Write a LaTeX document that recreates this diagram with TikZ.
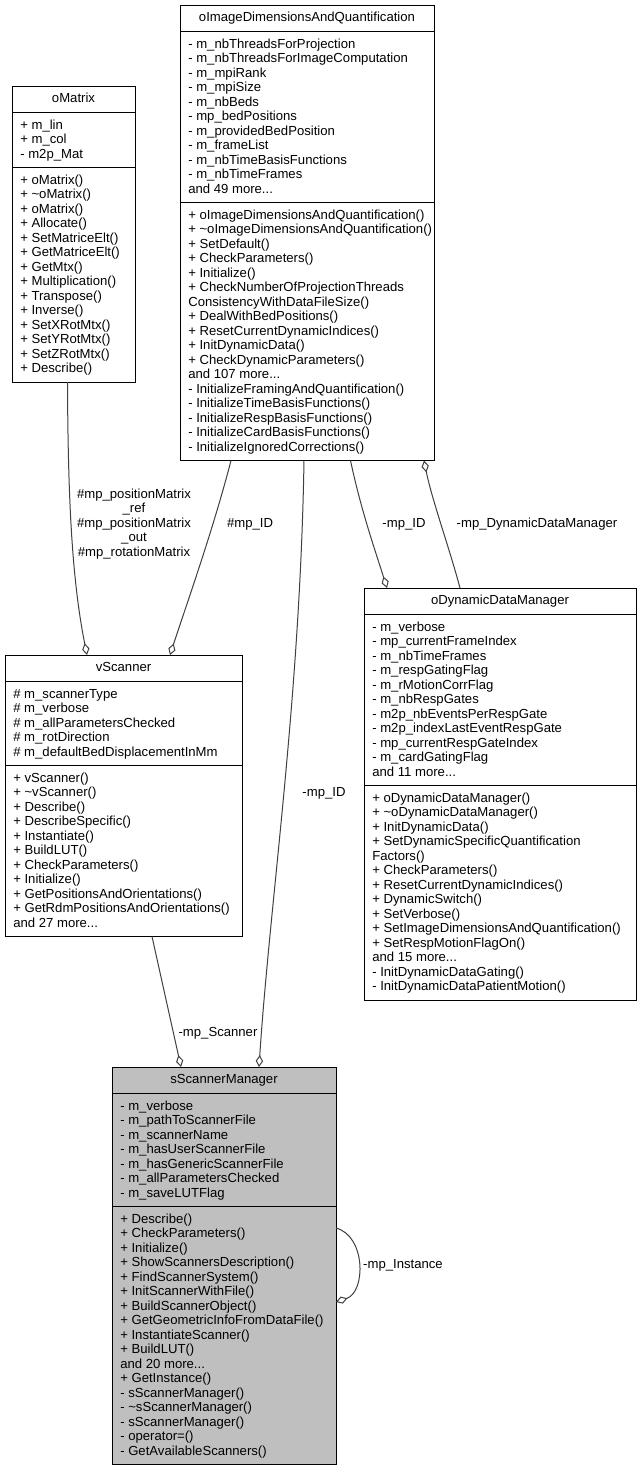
\documentclass[tikz,border=0pt]{standalone}
\usepackage{fontspec}
\setmainfont{Liberation Sans}
\usetikzlibrary{arrows.meta,fit}
\definecolor{edgec}{HTML}{404040}
\definecolor{smfill}{HTML}{BFBFBF}
\newcommand\fs{\fontsize{9.85pt}{10.875pt}\selectfont}
\newcommand\fr{\rule{0pt}{8pt}}
\tikzset{
 umlbox/.style={draw=black, line width=0.75pt, inner sep=0pt},
 sepline/.style={draw=black, line width=0.75pt},
 lines/.style={anchor=north west, inner sep=0pt, align=left, font=\fs},
 ttl/.style={anchor=base, inner sep=0pt, font=\fs},
 lab/.style={inner sep=0pt, align=center, font=\fs},
 conn/.style={draw=edgec, line width=0.75pt, -{Diamond[fill=white, length=9pt, width=5.5pt]}},
}
\begin{document}
\begin{tikzpicture}[x=0.75pt,y=-0.75pt]
\useasboundingbox (0,0) rectangle (640,1472);
\fill[white] (0,0) rectangle (640,1472);

% ---------- oMatrix
\node[umlbox, fit={(12,86)(135,382)}] (omatrix) {};
\draw[sepline] (12,112.17) -- (135,112.17);
\draw[sepline] (12,167.33) -- (135,167.33);
\node[ttl] (omt) at (73.5,102.8) {oMatrix};
\node[lines] (oma) at (20,118.37) {\fr+ m\_lin\\+ m\_col\\- m2p\_Mat};
\node[lines] (omm) at (20,173.53) {\fr+ oMatrix()\\+ \textasciitilde oMatrix()\\+ oMatrix()\\+ Allocate()\\+ SetMatriceElt()\\+ GetMatriceElt()\\+ GetMtx()\\+ Multiplication()\\+ Transpose()\\+ Inverse()\\+ SetXRotMtx()\\+ SetYRotMtx()\\+ SetZRotMtx()\\+ Describe()};

% ---------- oImageDimensionsAndQuantification
\node[umlbox, fit={(180,5)(434,460.5)}] (oidq) {};
\draw[sepline] (180,31.17) -- (434,31.17);
\draw[sepline] (180,202.33) -- (434,202.33);
\node[ttl] (oidqt) at (307,21.8) {oImageDimensionsAndQuantification};
\node[lines] (oidqa) at (188,37.37) {\fr- m\_nbThreadsForProjection\\- m\_nbThreadsForImageComputation\\- m\_mpiRank\\- m\_mpiSize\\- m\_nbBeds\\- mp\_bedPositions\\- m\_providedBedPosition\\- m\_frameList\\- m\_nbTimeBasisFunctions\\- m\_nbTimeFrames\\and 49 more...};
\node[lines] (oidqm) at (188,208.53) {\fr+ oImageDimensionsAndQuantification()\\+ \textasciitilde oImageDimensionsAndQuantification()\\+ SetDefault()\\+ CheckParameters()\\+ Initialize()\\+ CheckNumberOfProjectionThreads\\ConsistencyWithDataFileSize()\\+ DealWithBedPositions()\\+ ResetCurrentDynamicIndices()\\+ InitDynamicData()\\+ CheckDynamicParameters()\\and 107 more...\\- InitializeFramingAndQuantification()\\- InitializeTimeBasisFunctions()\\- InitializeRespBasisFunctions()\\- InitializeCardBasisFunctions()\\- InitializeIgnoredCorrections()};

% ---------- vScanner
\node[umlbox, fit={(5,655)(242,936.5)}] (vscan) {};
\draw[sepline] (5,681.17) -- (242,681.17);
\draw[sepline] (5,765.33) -- (242,765.33);
\node[ttl] (vscant) at (123.5,671.8) {vScanner};
\node[lines] (vscana) at (13,687.37) {\fr\# m\_scannerType\\\# m\_verbose\\\# m\_allParametersChecked\\\# m\_rotDirection\\\# m\_defaultBedDisplacementInMm};
\node[lines] (vscanm) at (13,771.53) {\fr+ vScanner()\\+ \textasciitilde vScanner()\\+ Describe()\\+ DescribeSpecific()\\+ Instantiate()\\+ BuildLUT()\\+ CheckParameters()\\+ Initialize()\\+ GetPositionsAndOrientations()\\+ GetRdmPositionsAndOrientations()\\and 27 more...};

% ---------- oDynamicDataManager
\node[umlbox, fit={(364,588)(636,1000)}] (oddm) {};
\draw[sepline] (364,614.17) -- (636,614.17);
\draw[sepline] (364,785.33) -- (636,785.33);
\node[ttl] (oddmt) at (500,604.8) {oDynamicDataManager};
\node[lines] (oddma) at (372,620.37) {\fr- m\_verbose\\- mp\_currentFrameIndex\\- m\_nbTimeFrames\\- m\_respGatingFlag\\- m\_rMotionCorrFlag\\- m\_nbRespGates\\- m2p\_nbEventsPerRespGate\\- m2p\_indexLastEventRespGate\\- mp\_currentRespGateIndex\\- m\_cardGatingFlag\\and 11 more...};
\node[lines] (oddmm) at (372,791.53) {\fr+ oDynamicDataManager()\\+ \textasciitilde oDynamicDataManager()\\+ InitDynamicData()\\+ SetDynamicSpecificQuantification\\Factors()\\+ CheckParameters()\\+ ResetCurrentDynamicIndices()\\+ DynamicSwitch()\\+ SetVerbose()\\+ SetImageDimensionsAndQuantification()\\+ SetRespMotionFlagOn()\\and 15 more...\\- InitDynamicDataGating()\\- InitDynamicDataPatientMotion()};

% ---------- sScannerManager
\node[umlbox, fill=smfill, fit={(112,1067)(336,1464.5)}] (ssm) {};
\draw[sepline] (112,1093.17) -- (336,1093.17);
\draw[sepline] (112,1206.33) -- (336,1206.33);
\node[ttl] (ssmt) at (224,1083.8) {sScannerManager};
\node[lines] (ssma) at (120,1099.37) {\fr- m\_verbose\\- m\_pathToScannerFile\\- m\_scannerName\\- m\_hasUserScannerFile\\- m\_hasGenericScannerFile\\- m\_allParametersChecked\\- m\_saveLUTFlag};
\node[lines] (ssmm) at (120,1212.53) {\fr+ Describe()\\+ CheckParameters()\\+ Initialize()\\+ ShowScannersDescription()\\+ FindScannerSystem()\\+ InitScannerWithFile()\\+ BuildScannerObject()\\+ GetGeometricInfoFromDataFile()\\+ InstantiateScanner()\\+ BuildLUT()\\and 20 more...\\+ GetInstance()\\- sScannerManager()\\- \textasciitilde sScannerManager()\\- sScannerManager()\\- operator=()\\- GetAvailableScanners()};

% ---------- connector end points
\coordinate (omS) at (67.5,382);
\coordinate (vsT1) at (87,655);
\coordinate (idS1) at (231,460.5);
\coordinate (vsT2) at (170,655);
\coordinate (idS2) at (304,460.5);
\coordinate (smT2) at (259,1067);
\coordinate (idS3) at (350.5,460.5);
\coordinate (ddT1) at (387,588);
\coordinate (ddT2) at (460,588);
\coordinate (idS4) at (424,460.5);
\coordinate (vsB) at (152,936.5);
\coordinate (smT1) at (181,1067);
\coordinate (smR1) at (336,1228);
\coordinate (smR2) at (336,1302);

% ---------- connectors
\draw[conn] (omS) .. controls (68,500) and (72,580) .. (vsT1);
\draw[conn] (idS1) .. controls (213,530) and (188,600) .. (vsT2);
\draw[conn] (idS2) .. controls (300,700) and (270,900) .. (smT2);
\draw[conn] (idS3) .. controls (361,510) and (375,550) .. (ddT1);
\draw[conn] (ddT2) .. controls (450,550) and (432,500) .. (idS4);
\draw[conn] (vsB) -- (smT1);
\draw[conn] (smR1) .. controls (366,1236) and (366,1292) .. (smR2);

% ---------- labels
\node[lab] (l1) at (134,524) {\#mp\_positionMatrix\\\_ref\\\#mp\_positionMatrix\\\_out\\\#mp\_rotationMatrix};
\node[lab] (l2) at (250,524) {\#mp\_ID};
\node[lab] (l3) at (324,793) {-mp\_ID};
\node[lab] (l4) at (404,524) {-mp\_ID};
\node[lab] (l5) at (537,524) {-mp\_DynamicDataManager};
\node[lab] (l6) at (218,1033) {-mp\_Scanner};
\node[lab] (l7) at (403,1265) {-mp\_Instance};
\end{tikzpicture}
\end{document}
